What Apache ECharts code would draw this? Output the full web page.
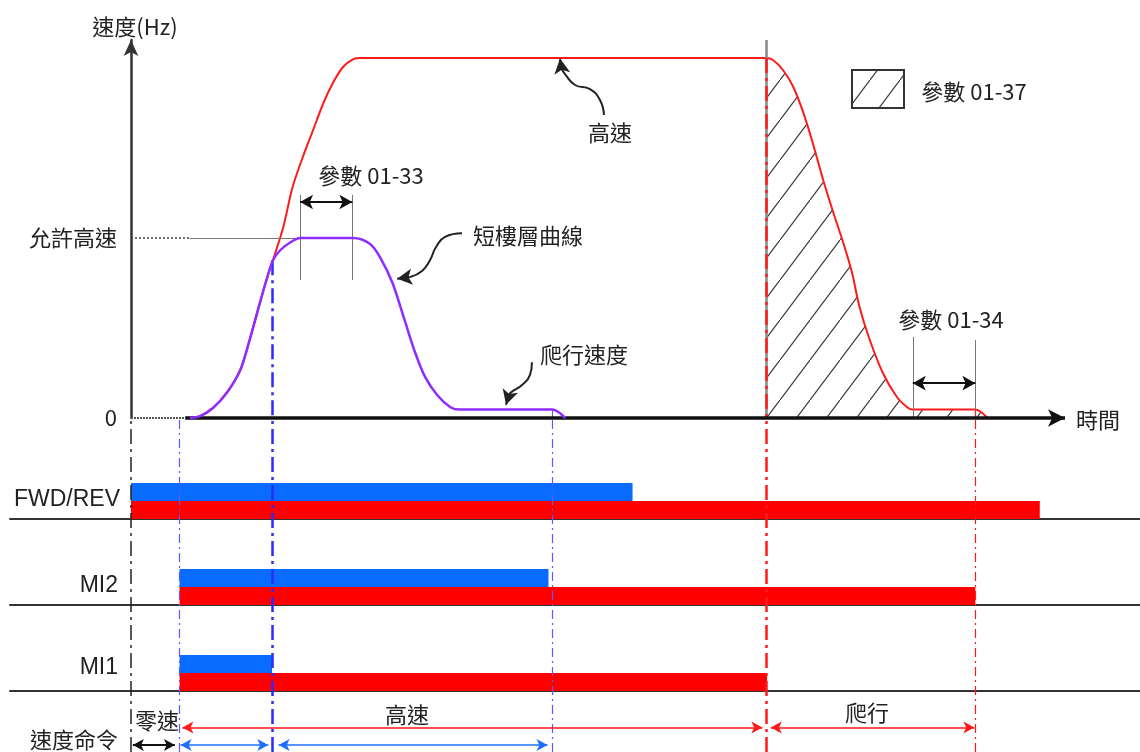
<!DOCTYPE html>
<html>
<head>
<meta charset="utf-8">
<script src="https://cdn.jsdelivr.net/npm/echarts@6/dist/echarts.min.js"></script>
<style>
  html, body { margin: 0; padding: 0; background: #fff; }
  #chart { width: 1140px; height: 752px; }
</style>
</head>
<body>
<div id="chart"></div>
<script>
// ---- Speed profile data (time in arbitrary units 0..100, speed in Hz) ----
const T_MAX = 100;
const V_MAX = 63;
const ALLOWED_HIGH = 30;

// Short-floor curve (purple): rises, caps at the allowed high speed, drops to creep, stops
const shortFloorCurve = [
  [6.3, 0], [7.4, 0.3], [8.8, 1.7], [10.3, 4.3], [11.7, 8], [12.7, 13], [13.8, 19.2],
  [14.6, 23.5], [15.2, 26.3], [16.0, 28], [17.0, 29.2], [18.1, 30], [23.8, 30],
  [25.6, 29], [26.7, 26.7], [28.0, 22.5], [29.3, 16.3], [30.4, 11], [31.5, 6.8],
  [32.8, 3.8], [34.2, 1.8], [35.2, 1.4], [45.1, 1.4], [46.5, 0]
];

// High-speed curve (red): accelerates to high speed, decelerates to creep, stops
const highSpeedCurve = [
  [6.3, 0], [7.4, 0.3], [8.8, 1.7], [10.3, 4.3], [11.7, 8], [12.7, 13], [13.8, 19.2],
  [14.6, 23.5], [15.2, 26.3], [16.3, 31.8], [17.3, 38.5], [18.4, 43.5], [19.5, 48],
  [20.6, 52.5], [21.6, 55.8], [22.7, 58.5], [23.8, 59.8], [24.5, 60], [68.0, 60],
  [68.7, 59.7], [69.8, 58], [70.9, 55.2], [72.0, 50.8], [73.0, 45.8], [74.1, 39.7],
  [75.2, 34.2], [76.3, 29.0], [77.2, 24.2], [78.0, 18.5], [79.1, 13], [80.5, 7.5],
  [82.0, 3.5], [83.1, 1.8], [83.7, 1.4], [90.4, 1.4], [91.7, 0]
];
const DECEL_START = 68.0;

// ---- Input signal spans [on, off] ----
const fwdBlue = [0, 53.7];
const fwdRed  = [0, 97.3];
const mi2Blue = [5.2, 44.7];
const mi2Red  = [5.2, 90.4];
const mi1Blue = [5.2, 15.1];
const mi1Red  = [5.2, 68.1];

// ---- Event times (vertical markers) ----
const tRun = 0, tMiOn = 5.2, tMi1Off = 15.1, tMi2Off = 45.1, tStop = 68.0, tEnd = 90.4;

// ---- Speed command spans ----
const cmdZero  = [0.2, 4.7];
const cmdHigh  = [5.5, 67.6];
const cmdCreep = [68.5, 90.3];
const cmdBlueA = [5.3, 14.7];
const cmdBlueB = [15.8, 44.6];

// ---- Layout ----
const W = 1140;
const PLOT_L = 131, PLOT_R = 1065, PLOT_TOP = 40, ZERO_Y = 418;
const ROW_L = 10;
const pxPerT = (PLOT_R - PLOT_L) / T_MAX;
const rowMin = (ROW_L - PLOT_L) / pxPerT;
const rowMax = (W - PLOT_L) / pxPerT;

const CJK = '"Noto Sans CJK TC", "Noto Sans CJK SC", sans-serif';
const LAT = '"Liberation Sans", Arial, sans-serif';
const INK = '#222';
const RED = '#ff1a1a';
const PURPLE = '#8f2cff';
const BLUE_BAR = '#0a6cff';
const RED_BAR = '#ff0000';
const BLUE_LINE = '#2a2aff';
const BLUE_THIN = '#5a5aff';

// Diagonal hatch pattern
function hatch() {
  const c = document.createElement('canvas');
  c.width = 30; c.height = 40;
  const g = c.getContext('2d');
  g.strokeStyle = '#3a3a3a';
  g.lineWidth = 1.2;
  g.beginPath();
  g.moveTo(-3, 44); g.lineTo(33, -4);
  g.stroke();
  return { image: c, repeat: 'repeat' };
}
const HATCH = hatch();

const noLabel = { show: false };
function ml(data, lineStyle, symbol, symbolSize) {
  return {
    silent: true, animation: false, label: noLabel,
    symbol: symbol || 'none', symbolSize: symbolSize || 10,
    lineStyle: Object.assign({ type: 'solid', width: 1, color: INK }, lineStyle),
    emphasis: { disabled: true },
    data: data
  };
}
function seg(a, b, extra, endExtra) {
  return [Object.assign({ coord: a }, extra || {}), Object.assign({ coord: b }, endExtra || {})];
}
function holder(gridIdx, z, markLine) {
  return { type: 'line', xAxisIndex: gridIdx, yAxisIndex: gridIdx, data: [], z: z,
           silent: true, showSymbol: false, markLine: markLine };
}
function spanBar(gridIdx, span, lane, color) {
  return {
    type: 'custom', xAxisIndex: gridIdx, yAxisIndex: gridIdx, z: 3, silent: true,
    data: [[span[0], span[1], lane]],
    renderItem: function (params, api) {
      const p0 = api.coord([api.value(0), api.value(2) + 1]);
      const p1 = api.coord([api.value(1), api.value(2)]);
      return { type: 'rect', shape: { x: p0[0], y: p0[1], width: p1[0] - p0[0], height: p1[1] - p0[1] },
               style: { fill: color } };
    }
  };
}
// Curved callout: smooth stroke along a path, finished with an arrowhead
function callout(path, tip) {
  return [
    { type: 'line', xAxisIndex: 0, yAxisIndex: 0, z: 6, silent: true, showSymbol: false,
      smooth: 0.5, data: path, lineStyle: { color: '#222', width: 2 } },
    holder(0, 6, ml([seg(path[path.length - 1], tip)], { width: 2, color: '#222' }, ['none', 'arrow'], [12, 15]))
  ];
}

const DD_THIN = [9, 4, 2, 4];
const DD_THICK = [15, 5, 3, 5];

const rowAxisX = (i) => ({ gridIndex: i, type: 'value', min: rowMin, max: rowMax,
  axisLine: { show: true, lineStyle: { color: '#333', width: 2 } },
  axisTick: { show: false }, axisLabel: { show: false }, splitLine: { show: false } });
const hiddenY = (i, max) => ({ gridIndex: i, type: 'value', min: 0, max: max, show: false });
const plotX = (i) => ({ gridIndex: i, type: 'value', min: 0, max: T_MAX, show: false });

const grids = [
  { left: PLOT_L, right: W - PLOT_R, top: PLOT_TOP, height: ZERO_Y - PLOT_TOP },
  { left: PLOT_L, right: W - PLOT_R, top: ZERO_Y, bottom: 0 },
  { left: ROW_L, right: 0, top: 483, height: 36 },
  { left: ROW_L, right: 0, top: 569, height: 36 },
  { left: ROW_L, right: 0, top: 655, height: 36 },
  { left: PLOT_L, right: W - PLOT_R, top: 691, bottom: 0 }
].map(g => Object.assign({ containLabel: false, outerBoundsMode: 'none' }, g));

const creepV = shortFloorCurve[shortFloorCurve.length - 2][1];
const mi1OffV = 26.3;
const SMOOTH = 0.3;

const series = [
  // hatched deceleration area
  {
    type: 'line', xAxisIndex: 0, yAxisIndex: 0, z: 1, silent: true, showSymbol: false,
    smooth: SMOOTH,
    data: highSpeedCurve.filter(p => p[0] >= DECEL_START),
    lineStyle: { width: 0 }, areaStyle: { color: HATCH, opacity: 1 }
  },
  // gray stop marker + guide lines in the speed plot
  holder(0, 2, ml([
    seg([tStop, V_MAX], [tStop, 0], { lineStyle: { color: '#888', width: 2.5 } }),
    seg([18.1, 37.2], [18.1, 23]),
    seg([23.7, 37.2], [23.7, 23]),
    seg([83.7, 13.5], [83.7, 0]),
    seg([tEnd, 13], [tEnd, 0]),
    seg([0, ALLOWED_HIGH], [6.3, ALLOWED_HIGH], { lineStyle: { type: [2, 2], color: '#444', width: 1.5 } }),
    seg([6.3, ALLOWED_HIGH], [18.1, ALLOWED_HIGH])
  ], { color: '#777', width: 1 })),
  // dash-dot event markers inside the speed plot
  holder(0, 3, ml([
    seg([tMi1Off, mi1OffV], [tMi1Off, 0], { lineStyle: { color: BLUE_LINE, width: 2.5, type: DD_THICK } }),
    seg([tMi2Off, creepV], [tMi2Off, 0], { lineStyle: { color: BLUE_THIN, width: 1.2, type: DD_THIN } }),
    seg([tStop, 60], [tStop, 0], { lineStyle: { color: RED, width: 2.5, type: DD_THICK } }),
    seg([tEnd, creepV], [tEnd, 0], { lineStyle: { color: RED, width: 1.2, type: DD_THIN } })
  ], {})),
  // high-speed curve
  {
    type: 'line', xAxisIndex: 0, yAxisIndex: 0, z: 4, silent: true, showSymbol: false,
    smooth: SMOOTH,
    data: highSpeedCurve, lineStyle: { color: RED, width: 2 }
  },
  // short-floor curve
  {
    type: 'line', xAxisIndex: 0, yAxisIndex: 0, z: 5, silent: true, showSymbol: false,
    smooth: SMOOTH,
    data: shortFloorCurve, lineStyle: { color: PURPLE, width: 2.5 }
  },
  // zero line with arrow, dotted lead-in
  holder(0, 6, ml([
    seg([5.8, 0], [T_MAX, 0], { symbol: 'none', lineStyle: { width: 3.5, color: '#111' } },
        { symbol: 'arrow', symbolSize: [13, 17] }),
    seg([0, 0], [5.8, 0], { symbol: 'none', lineStyle: { width: 2, color: '#555', type: [2, 1] } },
        { symbol: 'none' })
  ], {})),
  // parameter span arrows
  holder(0, 6, ml([
    seg([18.1, 36], [23.7, 36]),
    seg([83.7, 5.8], [tEnd, 5.8])
  ], { width: 2, color: '#111' }, ['arrow', 'arrow'], [11, 13])),
  // callouts
  ...callout([[50.64, 50.5], [50.21, 53], [49.14, 54.8], [47.54, 55.5], [46.47, 57.3], [46.1, 58.2]], [45.93, 59.9]),
  ...callout([[35.44, 30.8], [33.62, 30.2], [32.66, 28.5], [32.01, 26.3], [31.16, 24.5], [29.9, 23.5]], [28.5, 23.2]),
  ...callout([[42.93, 9.3], [42.72, 7.2], [41.86, 5.5], [40.79, 4.4], [40.5, 4.0]], [40.15, 2.2]),

  // vertical event markers below the speed plot
  holder(1, 1, ml([
    { xAxis: tRun, lineStyle: { color: '#222', width: 1.5, type: DD_THICK } },
    { xAxis: tMiOn, lineStyle: { color: BLUE_THIN, width: 1.2, type: DD_THIN } },
    { xAxis: tMi1Off, lineStyle: { color: BLUE_LINE, width: 2.5, type: DD_THICK } },
    { xAxis: tMi2Off, lineStyle: { color: BLUE_THIN, width: 1.2, type: DD_THIN } },
    { xAxis: tStop, lineStyle: { color: RED, width: 2.5, type: DD_THICK } },
    { xAxis: tEnd, lineStyle: { color: RED, width: 1.2, type: DD_THIN } }
  ], {})),

  // signal rows
  spanBar(2, fwdBlue, 1, BLUE_BAR), spanBar(2, fwdRed, 0, RED_BAR),
  spanBar(3, mi2Blue, 1, BLUE_BAR), spanBar(3, mi2Red, 0, RED_BAR),
  spanBar(4, mi1Blue, 1, BLUE_BAR), spanBar(4, mi1Red, 0, RED_BAR),

  // speed command spans
  holder(5, 4, ml([
    seg([cmdHigh[0], 1.2], [cmdHigh[1], 1.2], { lineStyle: { color: RED } }),
    seg([cmdCreep[0], 1.2], [cmdCreep[1], 1.2], { lineStyle: { color: RED } }),
    seg([cmdBlueA[0], 0.35], [cmdBlueA[1], 0.35], { lineStyle: { color: '#1f6fff' } }),
    seg([cmdBlueB[0], 0.35], [cmdBlueB[1], 0.35], { lineStyle: { color: '#1f6fff' } }),
    seg([cmdZero[0], 0.35], [cmdZero[1], 0.35], { lineStyle: { color: '#111', width: 2 } })
  ], { width: 1.5 }, ['arrow', 'arrow'], [9, 11]))
];

function txt(text, x, y, size, align, font) {
  return { type: 'text', x: x, y: y, silent: true, z: 100,
    style: { text: text, fill: INK, font: size + 'px ' + (font || CJK), align: align || 'left', verticalAlign: 'middle' } };
}

const option = {
  animation: false,
  backgroundColor: '#fff',
  grid: grids,
  xAxis: [plotX(0), plotX(1), rowAxisX(2), rowAxisX(3), rowAxisX(4), plotX(5)],
  yAxis: [
    {
      gridIndex: 0, type: 'value', min: 0, max: V_MAX,
      splitLine: { show: false }, axisTick: { show: false },
      axisLine: { show: true, onZero: false, symbol: ['none', 'arrow'], symbolSize: [11, 16],
                  lineStyle: { color: '#333', width: 2.5 } },
      axisLabel: { customValues: [0, ALLOWED_HIGH], formatter: v => (v === 0 ? '0' : '允許高速'),
                   margin: 14, fontSize: 22, color: INK, fontFamily: CJK }
    },
    hiddenY(1, 1), hiddenY(2, 2), hiddenY(3, 2), hiddenY(4, 2), hiddenY(5, 3)
  ],
  series: series,
  graphic: [
    txt('速度(Hz)', 135, 27, 22, 'center'),
    txt('參數 01-33', 371, 176, 22, 'center'),
    txt('高速', 610, 133, 22, 'center'),
    txt('短樓層曲線', 528, 236, 22, 'center'),
    txt('爬行速度', 584, 355, 22, 'center'),
    txt('參數 01-37', 974, 92, 22, 'center'),
    txt('參數 01-34', 951, 320, 22, 'center'),
    txt('時間', 1098, 420, 22, 'center'),
    txt('FWD/REV', 120, 500, 23, 'right', LAT),
    txt('MI2', 118, 586, 23, 'right', LAT),
    txt('MI1', 118, 668, 23, 'right', LAT),
    txt('速度命令', 74, 740, 22, 'center'),
    txt('零速', 157, 721, 22, 'center'),
    txt('高速', 407, 715, 22, 'center'),
    txt('爬行', 867, 713, 22, 'center'),
    { type: 'rect', silent: true, z: 100, shape: { x: 852, y: 70, width: 52, height: 38 },
      style: { fill: HATCH, stroke: '#333', lineWidth: 2 } }
  ]
};

const chart = echarts.init(document.getElementById('chart'), null, { renderer: 'canvas' });
chart.setOption(option);
</script>
</body>
</html>
